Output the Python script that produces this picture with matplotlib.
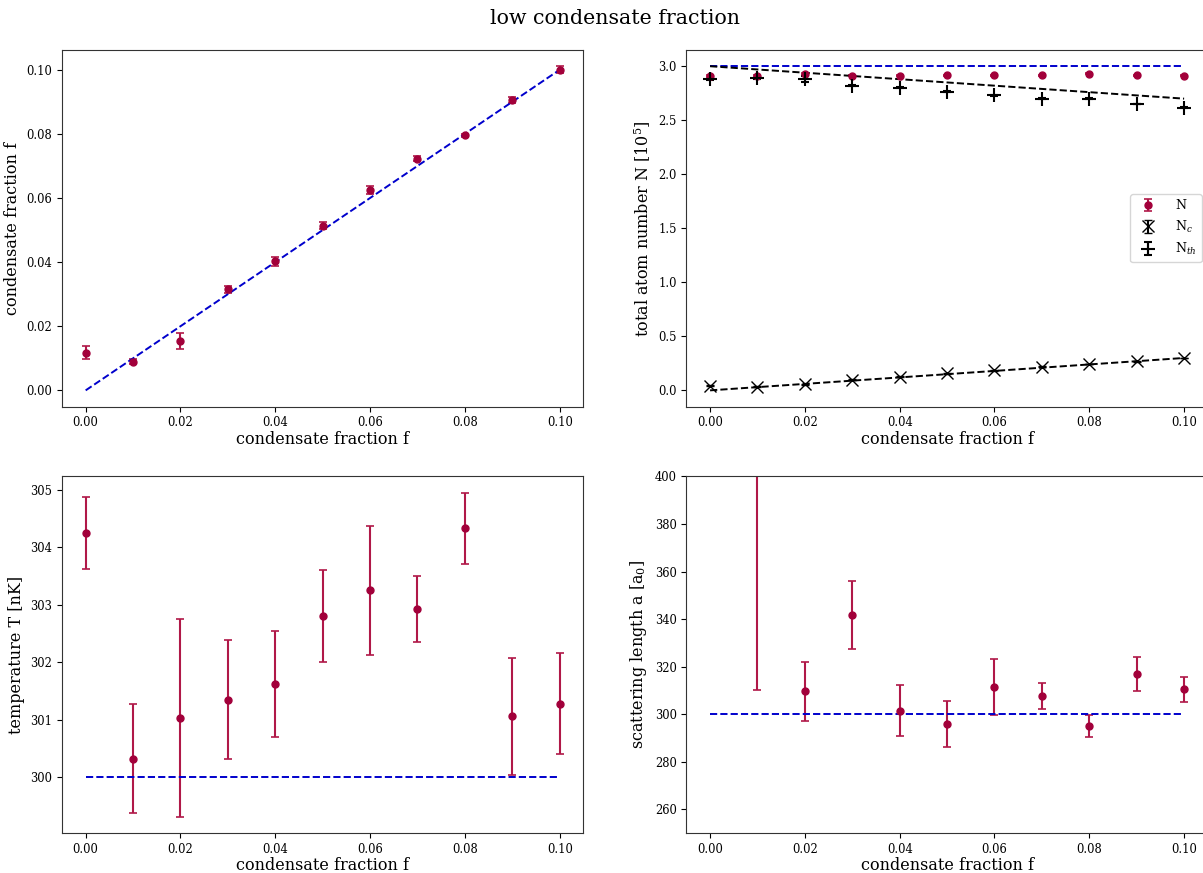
import numpy as np
import matplotlib
matplotlib.use("Agg")
import matplotlib.pyplot as plt

plt.rcParams['font.family'] = ['DejaVu Serif']
plt.rcParams['mathtext.fontset'] = 'dejavuserif'

# condensate fraction used as input for every run
f_in = np.array([0.00, 0.01, 0.02, 0.03, 0.04, 0.05, 0.06, 0.07, 0.08, 0.09, 0.10])

# fitted condensate fraction
f_fit = np.array([0.0118, 0.0090, 0.0155, 0.0315, 0.0402, 0.0514, 0.0625, 0.0723, 0.0795, 0.0905, 0.1000])
f_err = np.array([0.0021, 0.0008, 0.0025, 0.0010, 0.0013, 0.0011, 0.0012, 0.0009, 0.0006, 0.0010, 0.0011])

# atom numbers in units of 1e5
N_tot = np.array([2.91, 2.91, 2.93, 2.91, 2.91, 2.917, 2.917, 2.917, 2.93, 2.917, 2.91])
N_tot_err = np.array([0.01, 0.01, 0.01, 0.005, 0.005, 0.005, 0.005, 0.005, 0.005, 0.005, 0.005])
N_c = np.array([0.044, 0.034, 0.058, 0.10, 0.125, 0.157, 0.185, 0.217, 0.244, 0.268, 0.30])
N_c_err = np.array([0.004, 0.004, 0.004, 0.004, 0.004, 0.004, 0.004, 0.004, 0.004, 0.004, 0.004])
N_th = np.array([2.88, 2.89, 2.88, 2.82, 2.80, 2.763, 2.73, 2.70, 2.70, 2.65, 2.615])
N_th_err = np.array([0.004, 0.004, 0.03, 0.004, 0.004, 0.004, 0.004, 0.004, 0.004, 0.004, 0.004])
N_true = 3.0

# temperature in nK
T_fit = np.array([304.25, 300.32, 301.03, 301.35, 301.62, 302.80, 303.25, 302.93, 304.33, 301.06, 301.28])
T_err = np.array([0.62, 0.95, 1.72, 1.04, 0.92, 0.80, 1.12, 0.57, 0.62, 1.02, 0.88])
T_true = 300.0

# scattering length in a0
a_fit = np.array([480.0, 460.0, 309.6, 341.8, 301.4, 295.8, 311.5, 307.8, 295.0, 317.0, 310.5])
a_err = np.array([40.0, 150.0, 12.3, 14.3, 10.7, 9.8, 11.8, 5.5, 4.5, 7.2, 5.3])
a_true = 300.0

red = '#a2003a'
ebar = dict(fmt='o', color=red, ecolor='#b01848', markersize=5, capsize=3,
            elinewidth=1.5, capthick=1.2)
lab = 11.5

fig, axs = plt.subplots(2, 2, figsize=(12.03, 8.73), dpi=100)
fig.subplots_adjust(left=0.0515, right=1.004, top=0.9427, bottom=0.0458,
                    wspace=0.1975, hspace=0.196)
fig.suptitle('low condensate fraction', fontsize=14.8, x=0.511, y=0.99)

ax = axs[0, 0]
ax.errorbar(f_in, f_fit, yerr=f_err, **ebar)
ax.plot([f_in[0], f_in[-1]], [f_in[0], f_in[-1]], '--', color='#0000cc', lw=1.4)
ax.set_ylabel('condensate fraction f', fontsize=lab)

ax = axs[0, 1]
ax.plot([f_in[0], f_in[-1]], [N_true, N_true], '--', color='#0000cc', lw=1.4)
ax.errorbar(f_in, N_tot, yerr=N_tot_err, label='N', **ebar)
ax.errorbar(f_in, N_c, yerr=N_c_err, fmt='x', color='black', markersize=9,
            capsize=3, label='N$_c$')
ax.errorbar(f_in, N_th, yerr=N_th_err, fmt='+', color='black', markersize=10,
            markeredgewidth=1.5, capsize=3, label='N$_{th}$')
ax.plot(f_in, N_true * f_in, '--', color='black', lw=1.4)
ax.plot(f_in, N_true * (1 - f_in), '--', color='black', lw=1.4)
ax.set_ylabel('total atom number N [10$^5$]', fontsize=lab)
ax.legend(loc='center right', fontsize=9, handletextpad=1.2)

ax = axs[1, 0]
ax.errorbar(f_in, T_fit, yerr=T_err, **ebar)
ax.plot([f_in[0], f_in[-1]], [T_true, T_true], '--', color='#0000cc', lw=1.4)
ax.set_ylabel('temperature T [nK]', fontsize=lab)

ax = axs[1, 1]
ax.errorbar(f_in, a_fit, yerr=a_err, **ebar)
ax.plot([f_in[0], f_in[-1]], [a_true, a_true], '--', color='#0000cc', lw=1.4)
ax.set_ylim(250, 400)
ax.set_ylabel('scattering length a [a$_0$]', fontsize=lab)

for ax in axs.flat:
    ax.set_xlabel('condensate fraction f', fontsize=lab, labelpad=1)
    ax.set_xticks([0.0, 0.02, 0.04, 0.06, 0.08, 0.10])
    ax.tick_params(labelsize=8.3)
    for s in ax.spines.values():
        s.set_color('#333333')

fig.savefig('out.png', dpi=100)
